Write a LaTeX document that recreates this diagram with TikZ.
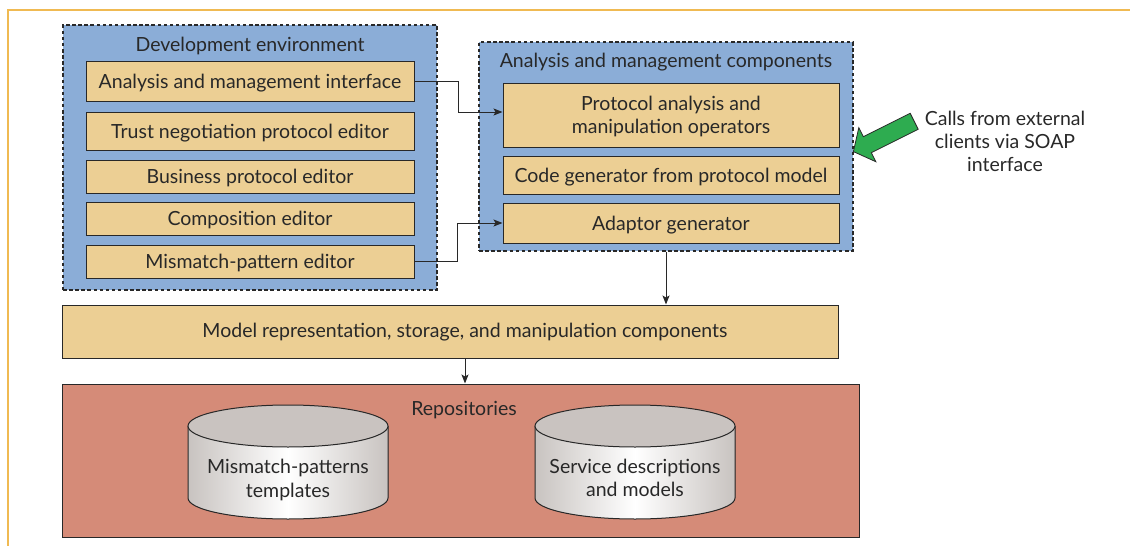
\documentclass[tikz,border=0pt]{standalone}
\usepackage{fontspec}
\setmainfont{Lato}
\usetikzlibrary{arrows.meta}

\definecolor{envblue}{RGB}{139,173,215}
\definecolor{boxtan}{RGB}{236,207,148}
\definecolor{repored}{RGB}{213,139,120}
\definecolor{cylgray}{RGB}{200,195,192}
\definecolor{cyltop}{RGB}{201,195,192}
\definecolor{callgreen}{RGB}{46,172,80}
\definecolor{framegold}{RGB}{240,186,82}
\definecolor{ink}{RGB}{40,40,40}

\begin{document}
\begin{tikzpicture}[x=1pt, y=-1pt,
  txt/.style={font=\fontsize{19.5}{23.3}\selectfont, text=ink},
  group/.style={draw=ink, fill=envblue, line width=1.2pt,
                dash pattern=on 3.5pt off 2.6pt, inner sep=0pt},
  tanbox/.style={txt, draw=ink, fill=boxtan, line width=1pt, inner sep=0pt,
                 text height=14pt, text depth=0pt},
  twoline/.style={align=center, text height=37.3pt, text depth=0pt},
  lbl/.style={txt, anchor=base, inner sep=0pt},
  conn/.style={draw=ink, line width=1pt, -{Stealth[length=9pt, width=7pt, inset=2pt]}},
  cylbody/.style={left color=cylgray, right color=cylgray, middle color=white},
  cylline/.style={draw=ink, line width=1pt}
]
\useasboundingbox (0,0) rectangle (1130,546);

% page frame
\draw[framegold, line width=1.4pt] (1130,10) -- (8,10) -- (8,546);

% development environment
\node[group, minimum width=374pt, minimum height=265pt] (dev) at (250,157.5) {};
\node[lbl] (devtitle) at (250,51) {Development environment};
\node[tanbox, minimum width=328pt, minimum height=40pt] (ami) at (250,81)
  {Analysis and management interface};
\node[tanbox, minimum width=328pt, minimum height=38pt] (tnp) at (250,131)
  {Trust negotiation protocol editor};
\node[tanbox, minimum width=328pt, minimum height=33pt] (bpe) at (250,176.5)
  {Business protocol editor};
\node[tanbox, minimum width=328pt, minimum height=33pt] (ced) at (250,218.5)
  {Composition editor};
\node[tanbox, minimum width=328pt, minimum height=33pt] (mpe) at (250,261.5)
  {Mismatch-pattern editor};

% analysis and management components
\node[group, minimum width=374pt, minimum height=209pt] (amc) at (666,146.5) {};
\node[lbl] (amctitle) at (666,67) {Analysis and management components};
\node[tanbox, twoline, minimum width=336pt, minimum height=64pt] (pao) at (671,115)
  {Protocol analysis and\\manipulation operators};
\node[tanbox, minimum width=336pt, minimum height=38pt] (cgen) at (671,175)
  {Code generator from protocol model};
\node[tanbox, minimum width=336pt, minimum height=40pt] (agen) at (671,223)
  {Adaptor generator};

% model layer
\node[tanbox, minimum width=776pt, minimum height=53pt] (model) at (450,331.5) {};
\node[lbl] (modeltxt) at (465,337)
  {Model representation, storage, and manipulation components};

% repositories
\node[draw=ink, fill=repored, line width=1pt, minimum width=797pt,
      minimum height=153pt, inner sep=0pt] (repo) at (460.5,460.5) {};
\node[lbl] (repotitle) at (464,415) {Repositories};

% repository cylinders
\foreach \cx in {288,635} {
  \fill[cylbody] (\cx-100,426) -- (\cx-100,498)
     arc[start angle=180, end angle=0, x radius=100, y radius=21] -- (\cx+100,426) -- cycle;
  \draw[cylline] (\cx-100,426) -- (\cx-100,498)
     arc[start angle=180, end angle=0, x radius=100, y radius=21] -- (\cx+100,426);
  \draw[cylline, fill=cyltop] (\cx,426) ellipse[x radius=100, y radius=21];
}
\node[lbl, align=center] (mptpl) at (288,497) {Mismatch-patterns\\templates};
\node[lbl, align=center] (sdesc) at (635,496.5) {Service descriptions\\and models};

% connectors
\draw[conn] (ami.east) -- (458,83 |- ami.east) |- ([yshift=3pt]pao.west);
\draw[conn] (mpe.east) -- (457,0 |- mpe.east) |- (agen.west);
\draw[conn] (amc.south) -- (amc.south |- model.north);
\draw[conn] (modeltxt.south |- model.south) -- (modeltxt.south |- repo.north);

% external SOAP calls
\draw[draw=ink, fill=callgreen, line width=0.8pt]
  (910.2,113.3) -- (863.3,136.7) -- (858.8,127.7) -- (853.4,151.6)
  -- (875.8,161.7) -- (871.3,152.7) -- (918.2,129.3) -- cycle;
\node[lbl, align=center] (calls) at (1005,171.7)
  {Calls from external\\clients via SOAP\\interface};
\end{tikzpicture}
\end{document}
